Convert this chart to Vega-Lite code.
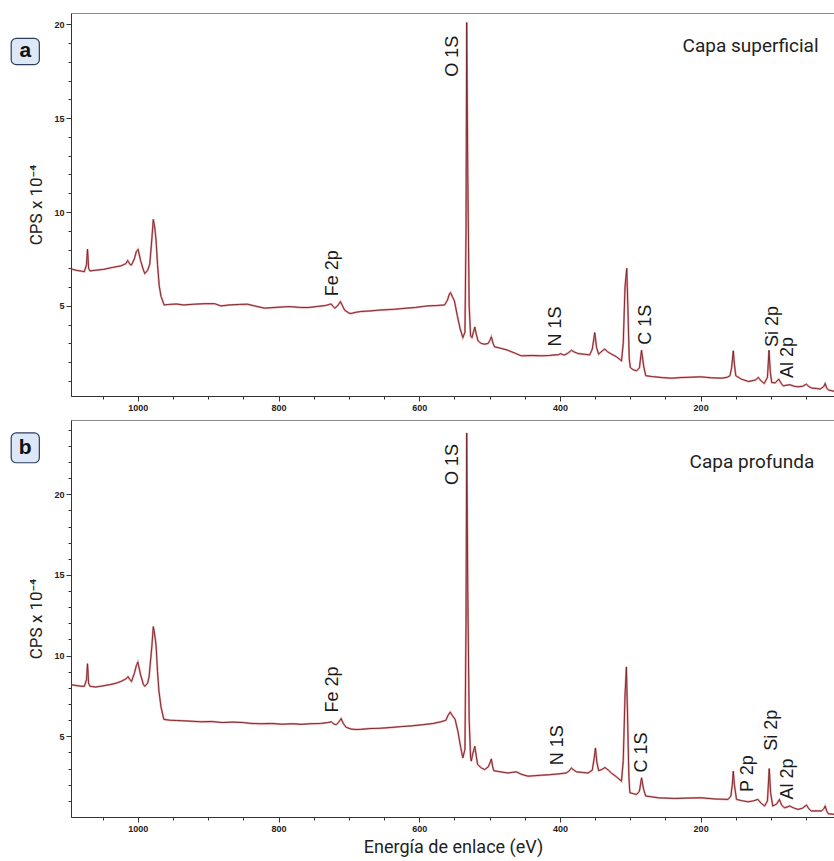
{
  "$schema": "https://vega.github.io/schema/vega-lite/v6.json",
  "padding": {"left": 10, "top": 12, "right": 0, "bottom": 0},
  "background": "white",
  "spacing": 6,
  "config": {
    "view": {"stroke": "#8a8a8a", "strokeWidth": 1},
    "axis": {"grid": false, "domainColor": "#333", "tickColor": "#333", "labelColor": "#222", "labelFont": "Liberation Sans", "labelFontWeight": "bold", "labelFontSize": 9, "labelOverlap": false, "titleFont": "Roboto", "titleFontWeight": "normal", "titleColor": "#222"}
  },
  "datasets": {
    "sup": [
      {"E":1095,"v":6.97},{"E":1088,"v":6.9},{"E":1080,"v":6.85},{"E":1076,"v":6.82},{"E":1073,"v":7.2},{"E":1071.5,"v":8.03},{"E":1070,"v":7.0},{"E":1068,"v":6.86},{"E":1060,"v":6.9},{"E":1048,"v":6.95},{"E":1036,"v":7.05},{"E":1024,"v":7.13},{"E":1017,"v":7.25},{"E":1014.5,"v":7.42},{"E":1011,"v":7.2},{"E":1009,"v":7.18},{"E":1005,"v":7.5},{"E":1002,"v":7.9},{"E":999.6,"v":8.01},{"E":996,"v":7.4},{"E":992,"v":6.9},{"E":990,"v":6.72},{"E":986,"v":6.9},{"E":983,"v":7.23},{"E":980,"v":8.6},{"E":978,"v":9.61},{"E":976,"v":9.2},{"E":974,"v":8.46},{"E":972,"v":7.2},{"E":969.6,"v":6.06},{"E":967,"v":5.5},{"E":962.6,"v":5.05},{"E":955,"v":5.08},{"E":945,"v":5.1},{"E":935,"v":5.05},{"E":920,"v":5.09},{"E":905,"v":5.12},{"E":891,"v":5.12},{"E":882,"v":5.0},{"E":870,"v":5.05},{"E":855,"v":5.08},{"E":844,"v":5.09},{"E":832,"v":4.98},{"E":820,"v":4.88},{"E":805,"v":4.92},{"E":790,"v":4.95},{"E":782,"v":4.96},{"E":770,"v":4.92},{"E":758,"v":4.91},{"E":745,"v":4.97},{"E":733,"v":5.02},{"E":728,"v":5.08},{"E":725,"v":5.1},{"E":722,"v":4.95},{"E":720,"v":4.88},{"E":716,"v":5.0},{"E":712,"v":5.23},{"E":709,"v":5.0},{"E":706,"v":4.77},{"E":700,"v":4.62},{"E":697,"v":4.59},{"E":690,"v":4.66},{"E":683,"v":4.7},{"E":670,"v":4.73},{"E":655,"v":4.78},{"E":635,"v":4.82},{"E":620,"v":4.87},{"E":605,"v":4.92},{"E":588,"v":5.0},{"E":575,"v":5.02},{"E":564,"v":5.05},{"E":560,"v":5.3},{"E":557,"v":5.65},{"E":555.5,"v":5.71},{"E":553,"v":5.5},{"E":550,"v":5.27},{"E":546,"v":4.5},{"E":542,"v":3.8},{"E":538,"v":3.31},{"E":535,"v":3.6},{"E":533.5,"v":9},{"E":532.5,"v":20.1},{"E":531,"v":12},{"E":529,"v":5},{"E":527,"v":3.4},{"E":525,"v":3.31},{"E":523,"v":3.6},{"E":521,"v":3.88},{"E":519,"v":3.5},{"E":516.4,"v":3.14},{"E":512,"v":3.0},{"E":507,"v":2.96},{"E":502,"v":3.0},{"E":499,"v":3.2},{"E":497.5,"v":3.35},{"E":495,"v":3.0},{"E":492.8,"v":2.82},{"E":485,"v":2.75},{"E":475,"v":2.65},{"E":465,"v":2.5},{"E":455,"v":2.34},{"E":440,"v":2.36},{"E":426,"v":2.34},{"E":415,"v":2.36},{"E":407,"v":2.39},{"E":402,"v":2.4},{"E":399,"v":2.46},{"E":396,"v":2.4},{"E":393,"v":2.39},{"E":388,"v":2.5},{"E":383.6,"v":2.64},{"E":380,"v":2.55},{"E":374,"v":2.46},{"E":365,"v":2.42},{"E":357.6,"v":2.39},{"E":354,"v":2.7},{"E":350.5,"v":3.58},{"E":348,"v":2.8},{"E":345,"v":2.43},{"E":340,"v":2.6},{"E":336.3,"v":2.7},{"E":332,"v":2.55},{"E":326.7,"v":2.43},{"E":320,"v":2.3},{"E":312.5,"v":2.07},{"E":310,"v":3.0},{"E":307.5,"v":6.0},{"E":305,"v":7.0},{"E":303.5,"v":5.0},{"E":301.5,"v":2.2},{"E":300,"v":1.72},{"E":296,"v":1.6},{"E":291,"v":1.54},{"E":287,"v":1.7},{"E":284,"v":2.64},{"E":281,"v":1.8},{"E":278,"v":1.28},{"E":270,"v":1.24},{"E":265,"v":1.22},{"E":255,"v":1.18},{"E":241,"v":1.15},{"E":228,"v":1.18},{"E":215,"v":1.2},{"E":200,"v":1.22},{"E":185,"v":1.17},{"E":170,"v":1.15},{"E":162,"v":1.2},{"E":158.3,"v":1.28},{"E":156,"v":1.7},{"E":153.6,"v":2.61},{"E":152,"v":1.9},{"E":150,"v":1.28},{"E":142,"v":1.1},{"E":132,"v":0.97},{"E":122,"v":1.05},{"E":118,"v":1.19},{"E":114,"v":1.0},{"E":109.5,"v":0.87},{"E":105,"v":1.2},{"E":102.8,"v":2.64},{"E":101,"v":1.5},{"E":99,"v":0.92},{"E":94,"v":0.9},{"E":89,"v":1.1},{"E":85,"v":0.85},{"E":82.5,"v":0.74},{"E":77,"v":0.78},{"E":73,"v":0.8},{"E":67,"v":0.72},{"E":61,"v":0.69},{"E":55,"v":0.72},{"E":49.6,"v":0.83},{"E":46,"v":0.7},{"E":42,"v":0.62},{"E":35,"v":0.6},{"E":30,"v":0.57},{"E":25,"v":0.7},{"E":23,"v":0.87},{"E":20.5,"v":0.6},{"E":18,"v":0.52},{"E":9,"v":0.44}
    ],
    "prof": [
      {"E":1095,"v":8.2},{"E":1088,"v":8.15},{"E":1080,"v":8.1},{"E":1076,"v":8.1},{"E":1073,"v":8.5},{"E":1071.5,"v":9.5},{"E":1070,"v":8.3},{"E":1068,"v":8.1},{"E":1060,"v":8.05},{"E":1053,"v":8.1},{"E":1040,"v":8.2},{"E":1030,"v":8.3},{"E":1024,"v":8.4},{"E":1017,"v":8.55},{"E":1014,"v":8.7},{"E":1011,"v":8.5},{"E":1009,"v":8.4},{"E":1005,"v":8.9},{"E":1002,"v":9.4},{"E":1000,"v":9.6},{"E":996,"v":8.8},{"E":992,"v":8.2},{"E":990,"v":8.1},{"E":986,"v":8.3},{"E":984,"v":8.7},{"E":980,"v":10.6},{"E":978,"v":11.8},{"E":976,"v":11.3},{"E":974,"v":10.6},{"E":972,"v":9.0},{"E":970,"v":7.8},{"E":967,"v":6.8},{"E":963,"v":6.05},{"E":955,"v":6.0},{"E":945,"v":5.98},{"E":930,"v":5.95},{"E":910,"v":5.9},{"E":895,"v":5.92},{"E":880,"v":5.85},{"E":865,"v":5.88},{"E":850,"v":5.85},{"E":839,"v":5.8},{"E":825,"v":5.78},{"E":810,"v":5.8},{"E":795,"v":5.75},{"E":780,"v":5.78},{"E":768,"v":5.74},{"E":755,"v":5.78},{"E":740,"v":5.8},{"E":730,"v":5.85},{"E":725,"v":5.9},{"E":721,"v":5.75},{"E":718,"v":5.72},{"E":715,"v":5.85},{"E":711,"v":6.1},{"E":708,"v":5.8},{"E":704,"v":5.56},{"E":697,"v":5.45},{"E":690,"v":5.42},{"E":683,"v":5.43},{"E":670,"v":5.48},{"E":655,"v":5.5},{"E":640,"v":5.55},{"E":626,"v":5.6},{"E":610,"v":5.65},{"E":595,"v":5.72},{"E":580,"v":5.8},{"E":569,"v":5.9},{"E":562,"v":6.0},{"E":559,"v":6.3},{"E":556,"v":6.5},{"E":553,"v":6.3},{"E":549,"v":6.05},{"E":545,"v":5.3},{"E":541,"v":4.3},{"E":538,"v":3.66},{"E":535,"v":4.2},{"E":533.5,"v":12},{"E":532.5,"v":23.8},{"E":531,"v":14},{"E":529,"v":6},{"E":527,"v":3.7},{"E":526,"v":3.46},{"E":524,"v":3.9},{"E":521,"v":4.38},{"E":519,"v":3.8},{"E":517,"v":3.25},{"E":512,"v":3.05},{"E":507,"v":2.94},{"E":502,"v":3.1},{"E":499,"v":3.4},{"E":497.5,"v":3.6},{"E":495.5,"v":3.1},{"E":494,"v":2.87},{"E":485,"v":2.8},{"E":474,"v":2.73},{"E":462,"v":2.8},{"E":455,"v":2.65},{"E":445.5,"v":2.53},{"E":436,"v":2.56},{"E":426.6,"v":2.59},{"E":415,"v":2.62},{"E":402.6,"v":2.67},{"E":391,"v":2.73},{"E":387,"v":2.85},{"E":383.6,"v":3.04},{"E":380,"v":2.9},{"E":376.5,"v":2.8},{"E":368,"v":2.76},{"E":360,"v":2.73},{"E":354,"v":2.9},{"E":351.5,"v":3.6},{"E":349.5,"v":4.28},{"E":347.5,"v":3.4},{"E":345,"v":2.87},{"E":340,"v":2.95},{"E":336,"v":3.07},{"E":331,"v":2.9},{"E":327,"v":2.73},{"E":320,"v":2.5},{"E":312.5,"v":2.22},{"E":310,"v":3.5},{"E":307.5,"v":7.5},{"E":305.5,"v":9.3},{"E":304,"v":6.5},{"E":302,"v":2.5},{"E":300.6,"v":1.5},{"E":296,"v":1.45},{"E":291,"v":1.4},{"E":287,"v":1.6},{"E":284,"v":2.43},{"E":281,"v":1.7},{"E":278,"v":1.3},{"E":270,"v":1.25},{"E":260.5,"v":1.19},{"E":250,"v":1.17},{"E":237,"v":1.15},{"E":220,"v":1.17},{"E":200,"v":1.19},{"E":180,"v":1.12},{"E":161,"v":1.09},{"E":157,"v":1.3},{"E":155,"v":2.0},{"E":153.6,"v":2.84},{"E":152,"v":2.0},{"E":149,"v":1.09},{"E":140,"v":1.0},{"E":132.5,"v":0.94},{"E":125,"v":1.0},{"E":118.5,"v":1.09},{"E":114,"v":0.85},{"E":109,"v":0.68},{"E":105,"v":1.0},{"E":102.5,"v":3.0},{"E":100.5,"v":1.5},{"E":97.5,"v":0.68},{"E":92,"v":0.8},{"E":88,"v":1.09},{"E":85,"v":0.75},{"E":81,"v":0.57},{"E":77,"v":0.62},{"E":73.5,"v":0.68},{"E":67,"v":0.55},{"E":61.5,"v":0.47},{"E":55,"v":0.55},{"E":49.6,"v":0.74},{"E":46,"v":0.5},{"E":42.7,"v":0.37},{"E":35,"v":0.38},{"E":28.5,"v":0.37},{"E":25,"v":0.5},{"E":23,"v":0.68},{"E":20.5,"v":0.35},{"E":18.5,"v":0.2},{"E":9,"v":0.16}
    ],
    "peaksA": [
      {"label":"O 1S","E":551.6,"v":18.3},{"label":"Fe 2p","E":722,"v":6.74},{"label":"N 1S","E":405,"v":3.9},{"label":"C 1S","E":277,"v":4.0},{"label":"Si 2p","E":97,"v":3.9},{"label":"Al 2p","E":76,"v":2.25}
    ],
    "peaksB": [
      {"label":"O 1S","E":551.6,"v":21.85},{"label":"Fe 2p","E":722,"v":7.9},{"label":"N 1S","E":403,"v":4.44},{"label":"C 1S","E":284,"v":4.0},{"label":"P 2p","E":132,"v":2.69},{"label":"Si 2p","E":98,"v":5.37},{"label":"Al 2p","E":76,"v":2.35}
    ],
    "capaA": [{"label":"Capa superficial","E":129,"v":18.84}],
    "capaB": [{"label":"Capa profunda","E":127,"v":21.98}],
    "boxA": [{"label":"a","E":1180,"E2":1140,"Em":1160,"v":19.25,"v2":17.85,"vm":18.55}],
    "boxB": [{"label":"b","E":1180,"E2":1140,"Em":1160,"v":23.8,"v2":21.95,"vm":22.88}]
  },
  "vconcat": [
    {
      "width": 764,
      "height": 383,
      "encoding": {
        "x": {"field": "E", "type": "quantitative", "scale": {"domain": [9, 1095], "reverse": true, "nice": false, "zero": false},
          "axis": {"title": null, "values": [50,100,150,200,250,300,350,400,450,500,550,600,650,700,750,800,850,900,950,1000,1050], "format": "d", "labelExpr": "datum.value % 200 === 0 ? datum.label : ''", "tickSize": {"condition": {"test": "datum.value % 200 === 0", "value": 5}, "value": 3}, "labelPadding": 2}},
        "y": {"field": "v", "type": "quantitative", "scale": {"domain": [0.2, 20.6], "nice": false, "zero": false},
          "axis": {"title": "CPS x 10⁻⁴", "titleFontSize": 17, "titlePadding": 8, "values": [1,2,3,4,5,6,7,8,9,10,11,12,13,14,15,16,17,18,19,20], "labelExpr": "datum.value % 5 === 0 ? datum.label : ''", "tickSize": {"condition": {"test": "datum.value % 5 === 0", "value": 5}, "value": 3}, "labelPadding": 2}}
      },
      "layer": [
        {"data": {"name": "sup"}, "mark": {"type": "line", "color": "#d8434c", "strokeWidth": 2, "opacity": 0.55}},
        {"data": {"name": "sup"}, "mark": {"type": "line", "color": "#6e2226", "strokeWidth": 0.9}},
        {"data": {"name": "peaksA"}, "mark": {"type": "text", "angle": 270, "align": "center", "baseline": "middle", "font": "Liberation Sans", "fontSize": 18, "color": "#1a1a1a"}, "encoding": {"text": {"field": "label"}}},
        {"data": {"name": "capaA"}, "mark": {"type": "text", "align": "center", "baseline": "middle", "font": "Roboto", "fontSize": 19, "color": "#222"}, "encoding": {"text": {"field": "label"}}},
        {"data": {"name": "boxA"}, "mark": {"type": "rect", "cornerRadius": 5, "fill": "#dce7f7", "stroke": "#2e3d5c", "strokeWidth": 1.2}, "encoding": {"x2": {"field": "E2"}, "y2": {"field": "v2"}}},
        {"data": {"name": "boxA"}, "mark": {"type": "text", "align": "center", "baseline": "middle", "font": "Liberation Sans", "fontWeight": "bold", "fontSize": 21, "color": "#111"}, "encoding": {"x": {"field": "Em", "type": "quantitative"}, "y": {"field": "vm", "type": "quantitative"}, "text": {"field": "label"}}}
      ]
    },
    {
      "width": 764,
      "height": 397,
      "encoding": {
        "x": {"field": "E", "type": "quantitative", "scale": {"domain": [9, 1095], "reverse": true, "nice": false, "zero": false},
          "axis": {"title": "Energía de enlace (eV)", "titleFontSize": 18, "titlePadding": 5, "values": [50,100,150,200,250,300,350,400,450,500,550,600,650,700,750,800,850,900,950,1000,1050], "format": "d", "labelExpr": "datum.value % 200 === 0 ? datum.label : ''", "tickSize": {"condition": {"test": "datum.value % 200 === 0", "value": 5}, "value": 3}, "labelPadding": 2}},
        "y": {"field": "v", "type": "quantitative", "scale": {"domain": [0, 24.6], "nice": false, "zero": false},
          "axis": {"title": "CPS x 10⁻⁴", "titleFontSize": 17, "titlePadding": 8, "values": [1,2,3,4,5,6,7,8,9,10,11,12,13,14,15,16,17,18,19,20,21,22,23,24], "labelExpr": "datum.value % 5 === 0 ? datum.label : ''", "tickSize": {"condition": {"test": "datum.value % 5 === 0", "value": 5}, "value": 3}, "labelPadding": 2}}
      },
      "layer": [
        {"data": {"name": "prof"}, "mark": {"type": "line", "color": "#d8434c", "strokeWidth": 2, "opacity": 0.55}},
        {"data": {"name": "prof"}, "mark": {"type": "line", "color": "#6e2226", "strokeWidth": 0.9}},
        {"data": {"name": "peaksB"}, "mark": {"type": "text", "angle": 270, "align": "center", "baseline": "middle", "font": "Liberation Sans", "fontSize": 18, "color": "#1a1a1a"}, "encoding": {"text": {"field": "label"}}},
        {"data": {"name": "capaB"}, "mark": {"type": "text", "align": "center", "baseline": "middle", "font": "Roboto", "fontSize": 19, "color": "#222"}, "encoding": {"text": {"field": "label"}}},
        {"data": {"name": "boxB"}, "mark": {"type": "rect", "cornerRadius": 5, "fill": "#dce7f7", "stroke": "#2e3d5c", "strokeWidth": 1.2}, "encoding": {"x2": {"field": "E2"}, "y2": {"field": "v2"}}},
        {"data": {"name": "boxB"}, "mark": {"type": "text", "align": "center", "baseline": "middle", "font": "Liberation Sans", "fontWeight": "bold", "fontSize": 21, "color": "#111"}, "encoding": {"x": {"field": "Em", "type": "quantitative"}, "y": {"field": "vm", "type": "quantitative"}, "text": {"field": "label"}}}
      ]
    }
  ]
}
